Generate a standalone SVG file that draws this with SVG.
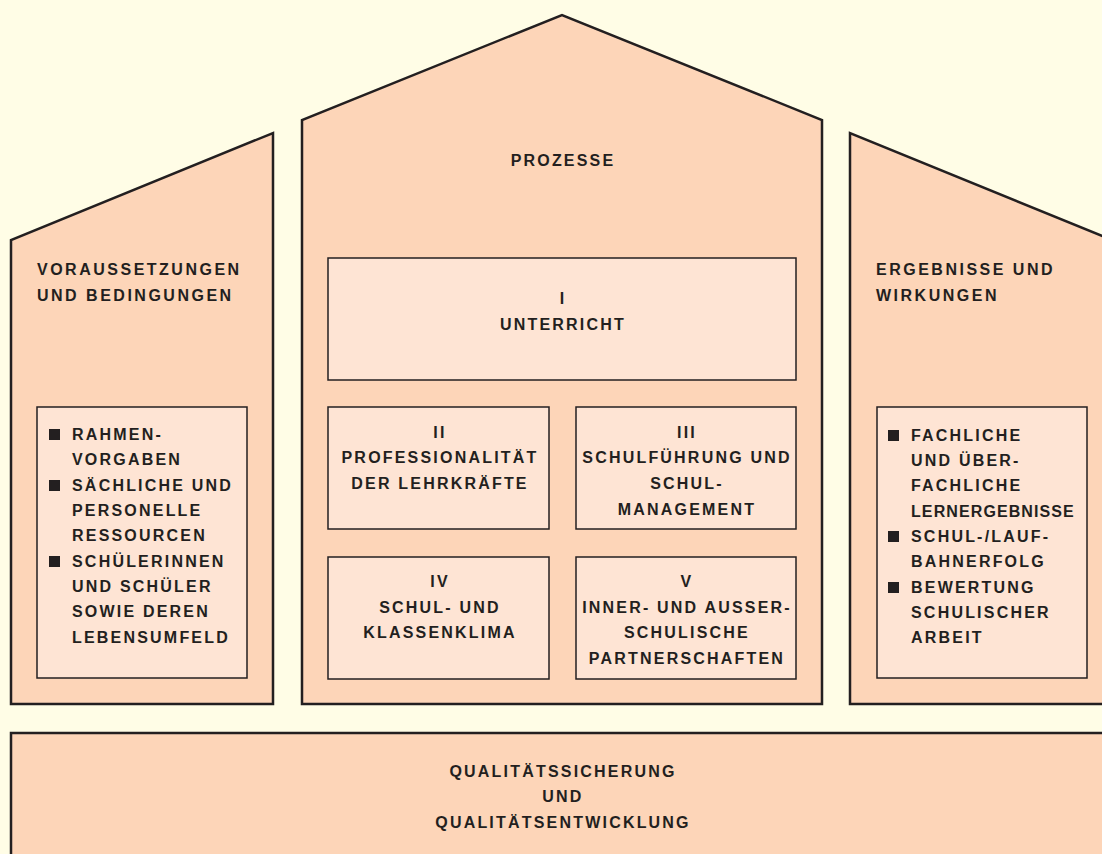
<svg xmlns="http://www.w3.org/2000/svg" width="1102" height="854" viewBox="0 0 1102 854">
<style>
.house{fill:#fdd5b8;stroke:#231f20;stroke-width:2.5;stroke-linejoin:miter}
.box{fill:#fee4d4;stroke:#231f20;stroke-width:1.5}
.t{font-family:"Liberation Sans",Arial,sans-serif;font-weight:bold;font-size:16px;letter-spacing:2.2px;fill:#231f20}
.h{letter-spacing:2.5px}
.c{text-anchor:middle}
.b{fill:#231f20}
</style>
<rect x="0" y="0" width="1102" height="854" fill="#fffde6"/>
<g id="voraussetzungen">
<polygon class="house" points="11,704 11,240 273,133 273,704"/>
<text class="t h" x="37" y="275">VORAUSSETZUNGEN</text>
<text class="t h" x="37" y="301">UND BEDINGUNGEN</text>
</g>
<g id="voraussetzungen-liste">
<rect class="box" x="37" y="407" width="210" height="271"/>
<rect class="b" x="49" y="429" width="11" height="11"/>
<rect class="b" x="49" y="480" width="11" height="11"/>
<rect class="b" x="49" y="556" width="11" height="11"/>
<text class="t" x="72" y="440">RAHMEN-</text>
<text class="t" x="72" y="465">VORGABEN</text>
<text class="t" x="72" y="491">SÄCHLICHE UND</text>
<text class="t" x="72" y="516">PERSONELLE</text>
<text class="t" x="72" y="541">RESSOURCEN</text>
<text class="t" x="72" y="567">SCHÜLERINNEN</text>
<text class="t" x="72" y="592">UND SCHÜLER</text>
<text class="t" x="72" y="617">SOWIE DEREN</text>
<text class="t" x="72" y="643">LEBENSUMFELD</text>
</g>
<g id="prozesse">
<polygon class="house" points="302,704 302,120 562,15 822,120 822,704"/>
<text class="t c" x="563" y="166">PROZESSE</text>
</g>
<g id="unterricht">
<rect class="box" x="328" y="258" width="468" height="122"/>
<text class="t c" x="563" y="304">I</text>
<text class="t c" x="563" y="330">UNTERRICHT</text>
</g>
<g id="professionalitaet">
<rect class="box" x="328" y="407" width="221" height="122"/>
<text class="t c" x="440" y="438">II</text>
<text class="t c" x="440" y="463">PROFESSIONALITÄT</text>
<text class="t c" x="440" y="489">DER LEHRKRÄFTE</text>
</g>
<g id="schulfuehrung">
<rect class="box" x="576" y="407" width="220" height="122"/>
<text class="t c" x="687" y="438">III</text>
<text class="t c" x="687" y="463">SCHULFÜHRUNG UND</text>
<text class="t c" x="687" y="489">SCHUL-</text>
<text class="t c" x="687" y="515">MANAGEMENT</text>
</g>
<g id="klima">
<rect class="box" x="328" y="557" width="221" height="122"/>
<text class="t c" x="440" y="587">IV</text>
<text class="t c" x="440" y="613">SCHUL- UND</text>
<text class="t c" x="440" y="638">KLASSENKLIMA</text>
</g>
<g id="partnerschaften">
<rect class="box" x="576" y="557" width="220" height="122"/>
<text class="t c" x="687" y="587">V</text>
<text class="t c" x="687" y="613">INNER- UND AUSSER-</text>
<text class="t c" x="687" y="638">SCHULISCHE</text>
<text class="t c" x="687" y="664">PARTNERSCHAFTEN</text>
</g>
<g id="ergebnisse">
<polygon class="house" points="850,704 850,133 1112,240 1112,704"/>
<text class="t h" x="876" y="275">ERGEBNISSE UND</text>
<text class="t h" x="876" y="301">WIRKUNGEN</text>
</g>
<g id="ergebnisse-liste">
<rect class="box" x="877" y="407" width="210" height="271"/>
<rect class="b" x="888" y="430" width="11" height="11"/>
<rect class="b" x="888" y="531" width="11" height="11"/>
<rect class="b" x="888" y="582" width="11" height="11"/>
<text class="t" x="911" y="441">FACHLICHE</text>
<text class="t" x="911" y="466">UND ÜBER-</text>
<text class="t" x="911" y="491">FACHLICHE</text>
<text class="t" x="911" y="517" style="letter-spacing:1.1px">LERNERGEBNISSE</text>
<text class="t" x="911" y="542">SCHUL-/LAUF-</text>
<text class="t" x="911" y="567">BAHNERFOLG</text>
<text class="t" x="911" y="593">BEWERTUNG</text>
<text class="t" x="911" y="618">SCHULISCHER</text>
<text class="t" x="911" y="643">ARBEIT</text>
</g>
<g id="qualitaet">
<rect class="house" x="11" y="733" width="1110" height="200"/>
<text class="t c" x="563" y="777">QUALITÄTSSICHERUNG</text>
<text class="t c" x="563" y="802">UND</text>
<text class="t c" x="563" y="828">QUALITÄTSENTWICKLUNG</text>
</g>
<g id="connectors"/>
</svg>
